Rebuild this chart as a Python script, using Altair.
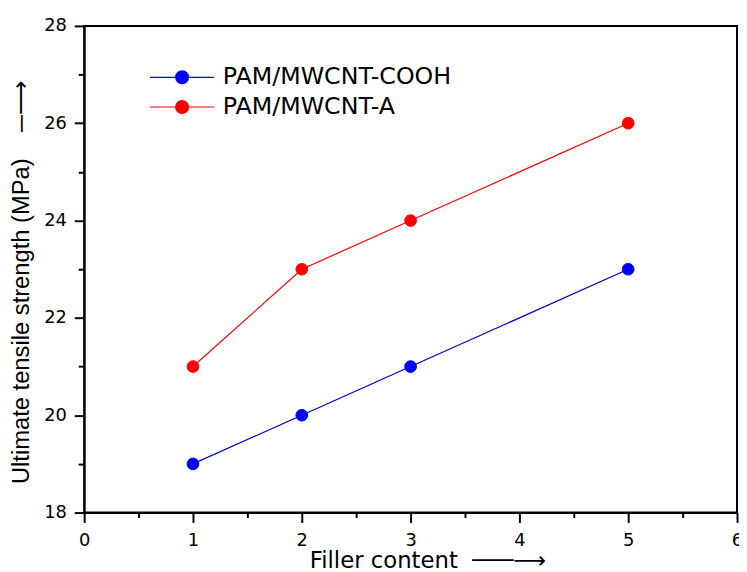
import altair as alt
import pandas as pd

series = ["PAM/MWCNT-COOH", "PAM/MWCNT-A"]
filler = [1, 2, 3, 5]
cooh = [19, 20, 21, 23]
amine = [21, 23, 24, 26]

x_ticks = [0, 0.5, 1, 1.5, 2, 2.5, 3, 3.5, 4, 4.5, 5, 5.5, 6]
y_ticks = [18, 19, 20, 21, 22, 23, 24, 25, 26, 27, 28]

rows = []
for s, vals in zip(series, [cooh, amine]):
    for xv, yv in zip(filler, vals):
        rows.append({"series": s, "line_series": s, "filler": xv, "strength": yv})
df = pd.DataFrame(rows)

FONT = "DejaVu Sans"
YFONT = "Liberation Sans"
line_colors = ["#0000cc", "#ff0000"]
point_colors = ["#0000ff", "#ff0000"]
NB = "\u00a0"

x_enc = alt.X(
    "filler:Q",
    scale=alt.Scale(domain=[0, 6], nice=False, zero=False),
    axis=alt.Axis(
        values=x_ticks,
        labelExpr="datum.value % 1 == 0 ? format(datum.value, 'd') : ''",
        tickSize={"condition": {"test": "datum.value % 1 == 0", "value": 10}, "value": 5},
        labelFlush=False,
        labelPadding=9,
        title="Filler content" + NB + NB + "\u2500\u2500\u2500\u27f6",
        titlePadding=1,
        titleX=347,
        titleFont=FONT,
        titleFontSize=23,
    ),
)
y_enc = alt.Y(
    "strength:Q",
    scale=alt.Scale(domain=[18, 28], nice=False, zero=False),
    axis=alt.Axis(
        values=y_ticks,
        labelExpr="datum.value % 2 == 0 ? datum.label : ''",
        tickSize={"condition": {"test": "datum.value % 2 == 0", "value": 10}, "value": 6},
        labelPadding=8,
        title="Ultimate tensile strength (MPa)" + NB * 4 + "\u2500\u27f6",
        titlePadding=10,
        titleY=259,
        titleFont=YFONT,
        titleFontSize=24,
    ),
)

legend = alt.Legend(
    title=None,
    orient="none",
    legendX=87,
    legendY=40,
    padding=0,
    symbolType="M-5,0L5,0M-1,0A1,1,0,1,1,1,0A1,1,0,1,1,-1,0Z",
    symbolSize=169,
    symbolStrokeWidth=1.2,
    labelFont=FONT,
    labelFontSize=24,
    labelColor="black",
    labelOffset=29,
    labelLimit=400,
    rowPadding=6,
)

lines = alt.Chart(df).mark_line(strokeWidth=1.2).encode(
    x=x_enc,
    y=y_enc,
    color=alt.Color("line_series:N", sort=series, scale=alt.Scale(range=line_colors), legend=None),
)

points = alt.Chart(df).mark_point(size=140, opacity=1, fillOpacity=1, strokeWidth=1).encode(
    x=x_enc,
    y=y_enc,
    fill=alt.Fill("series:N", scale=alt.Scale(domain=series, range=point_colors), legend=legend),
    stroke=alt.Stroke("series:N", scale=alt.Scale(domain=series, range=point_colors), legend=legend),
)

chart = (
    alt.layer(lines, points)
    .properties(
        width=660,
        height=492,
        autosize=alt.AutoSizeParams(type="none"),
        padding={"left": 77, "top": 15, "right": 2, "bottom": 57},
    )
    .configure_view(stroke="black", strokeWidth=2)
    .configure_axis(
        grid=False,
        domainColor="black",
        domainWidth=2,
        tickColor="black",
        tickWidth=2,
        labelFont=FONT,
        labelFontSize=18,
        labelColor="black",
        titleFontWeight="normal",
        titleColor="black",
    )
)

chart.save("out.html", embed_options={"renderer": "svg", "actions": False})
